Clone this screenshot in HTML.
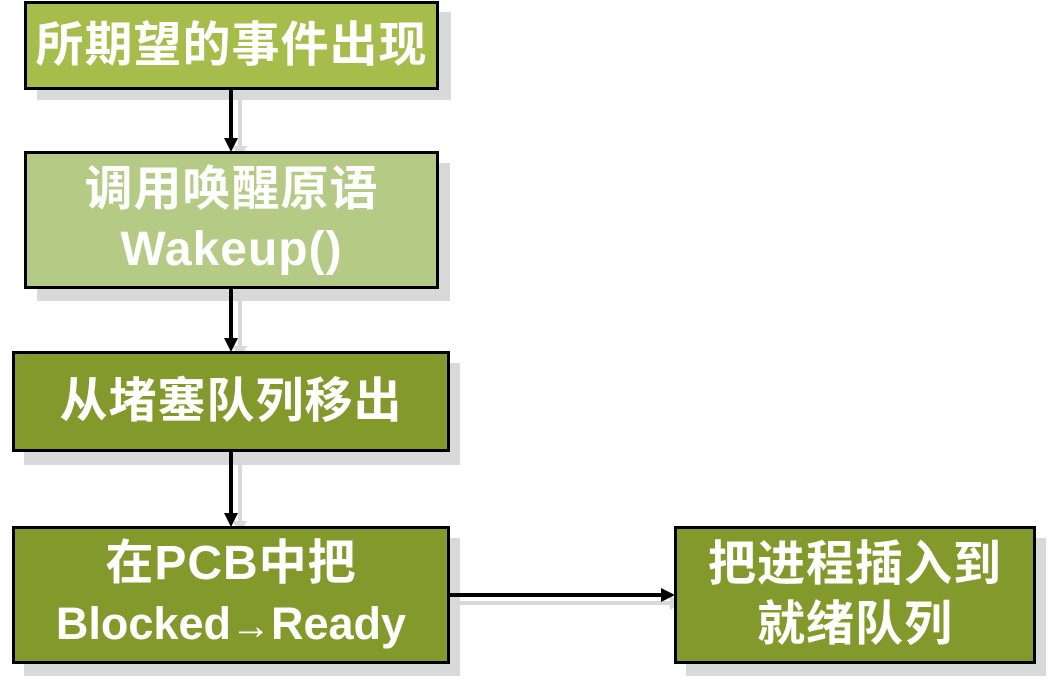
<!DOCTYPE html>
<html><head><meta charset="utf-8"><style>
body{margin:0;width:1052px;height:698px;background:#fff;position:relative;overflow:hidden;font-family:"Liberation Sans","Noto Sans CJK SC",sans-serif;}
.sh{position:absolute;background:#d9d9d9;}
.b{position:absolute;box-sizing:border-box;border:3px solid #000;color:#fff;font-weight:bold;font-size:48px;line-height:60px;display:flex;align-items:center;justify-content:center;text-align:center;letter-spacing:1px;white-space:nowrap;}
.ar{font-size:40px;letter-spacing:0;}
svg{position:absolute;left:0;top:0;}
</style></head><body>
<div class="sh" style="left:37px;top:12px;width:414px;height:88px"></div>
<div class="sh" style="left:37px;top:163px;width:413px;height:138px"></div>
<div class="sh" style="left:24px;top:363px;width:436px;height:102px"></div>
<div class="sh" style="left:24px;top:538px;width:436px;height:138px"></div>
<div class="sh" style="left:686px;top:538px;width:360px;height:138px"></div>
<svg width="1052" height="698">
<g fill="#d9d9d9" stroke="#d9d9d9">
<line x1="240" y1="90" x2="240" y2="148" stroke-width="4"/><polygon points="233,146 247,146 240,159" stroke="none"/>
<line x1="240" y1="289" x2="240" y2="348" stroke-width="4"/><polygon points="233,346 247,346 240,359" stroke="none"/>
<line x1="240" y1="452" x2="240" y2="523" stroke-width="4"/><polygon points="233,521 247,521 240,534" stroke="none"/>
<line x1="450" y1="603" x2="672" y2="603" stroke-width="4"/><polygon points="670,596 670,610 683,603" stroke="none"/>
</g>
</svg>
<div class="b" style="left:24px;top:1px;width:415px;height:89px;background:#a6bd4b"><div>所期望的事件出现</div></div>
<div class="b" style="left:24px;top:151px;width:415px;height:138px;background:#b5ca84"><div>调用唤醒原语<br>Wakeup()</div></div>
<div class="b" style="left:12px;top:351px;width:438px;height:101px;background:#83992c"><div>从堵塞队列移出</div></div>
<div class="b" style="left:12px;top:526px;width:438px;height:138px;background:#83992c"><div>在PCB中把<br><span style="font-size:45px;letter-spacing:0">Blocked<span class="ar">→</span>Ready</span></div></div>
<div class="b" style="left:674px;top:526px;width:362px;height:138px;background:#83992c"><div>把进程插入到<br>就绪队列</div></div>
<svg width="1052" height="698">
<g fill="#000" stroke="#000">
<line x1="231" y1="90" x2="231" y2="140" stroke-width="4"/><polygon points="224,138 238,138 231,152" stroke="none"/>
<line x1="231" y1="289" x2="231" y2="340" stroke-width="4"/><polygon points="224,338 238,338 231,352" stroke="none"/>
<line x1="231" y1="452" x2="231" y2="515" stroke-width="4"/><polygon points="224,513 238,513 231,527" stroke="none"/>
<line x1="450" y1="595" x2="663" y2="595" stroke-width="4"/><polygon points="661,588 661,602 675,595" stroke="none"/>
</g>
</svg>
</body></html>
